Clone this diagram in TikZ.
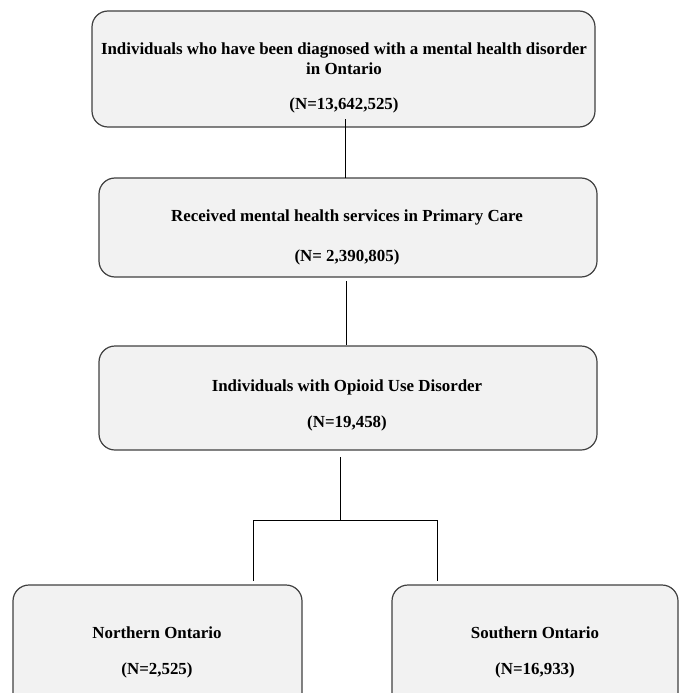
\documentclass[tikz,border=0pt]{standalone}
\usepackage{fontspec}
\setmainfont{Liberation Serif}
\begin{document}
\begin{tikzpicture}[x=1pt,y=-1pt,
  boxstyle/.style={draw=black!75,line width=1.2pt,fill=black!5,rounded corners=16pt},
  txt/.style={font=\bfseries\fontsize{16.9}{19}\selectfont,inner sep=0pt,anchor=center},
  conn/.style={draw=black,line width=0.9pt}]
\useasboundingbox (0,0) rectangle (684,693);
\clip (0,0) rectangle (684,693);
% boxes
\path[boxstyle] (92,11) rectangle (595,127);
\path[boxstyle] (99,178) rectangle (597,277);
\path[boxstyle] (99,346) rectangle (597,450);
\path[boxstyle] (13,585) rectangle (302,730);
\path[boxstyle] (392,585) rectangle (678,730);
% texts
\node[txt] (t1a) at (344,51) {Individuals who have been diagnosed with a mental health disorder};
\node[txt] (t1b) at (344,69) {in Ontario};
\node[txt] (t1c) at (344,105) {(N=13,642,525)};
\node[txt] (t2a) at (347,217) {Received mental health services in Primary Care};
\node[txt] (t2b) at (347,257) {(N= 2,390,805)};
\node[txt] (t3a) at (347,387) {Individuals with Opioid Use Disorder};
\node[txt] (t3b) at (347,423) {(N=19,458)};
\node[txt] (t4a) at (157,633) {Northern Ontario};
\node[txt] (t4b) at (157,670) {(N=2,525)};
\node[txt] (t5a) at (535,633) {Southern Ontario};
\node[txt] (t5b) at (535,670) {(N=16,933)};
% connector points
\coordinate (c1a) at (345,119);
\coordinate (c1b) at (345,178);
\coordinate (c2a) at (346,281);
\coordinate (c2b) at (346,345);
\coordinate (c3a) at (340,457);
\coordinate (c3b) at (340,520);
\coordinate (jl) at (253,520);
\coordinate (jr) at (437,520);
\coordinate (dl) at (253,581);
\coordinate (dr) at (437,581);
\draw[conn] (c1a) -- (c1b);
\draw[conn] (c2a) -- (c2b);
\draw[conn] (c3a) -- (c3b);
\draw[conn] (dl) -- (jl) -- (jr) -- (dr);
\end{tikzpicture}
\end{document}
